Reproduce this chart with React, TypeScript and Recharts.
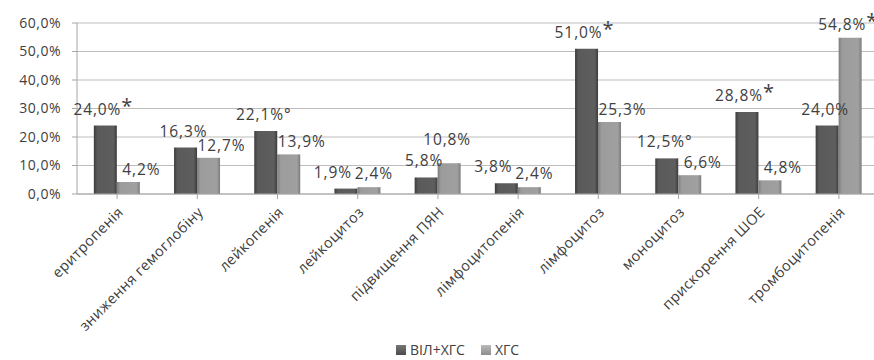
import { BarChart, Bar, XAxis, YAxis, CartesianGrid, Legend, LabelList } from 'recharts';

const categories = [
  'еритропенія',
  'зниження гемоглобіну',
  'лейкопенія',
  'лейкоцитоз',
  'підвищення ПЯН',
  'лімфоцитопенія',
  'лімфоцитоз',
  'моноцитоз',
  'прискорення ШОЕ',
  'тромбоцитопенія',
];
const hivHcv = [24.0, 16.3, 22.1, 1.9, 5.8, 3.8, 51.0, 12.5, 28.8, 24.0];
const hcv = [4.2, 12.7, 13.9, 2.4, 10.8, 2.4, 25.3, 6.6, 4.8, 54.8];
const hivHcvMarks = ['*', '', '°', '', '', '', '*', '°', '*', ''];
const hcvMarks = ['', '', '', '', '', '', '', '', '', '*'];
const yTicks = [0, 10, 20, 30, 40, 50, 60];

const data = categories.map((name, i) => ({ name, a: hivHcv[i], b: hcv[i] }));

const FONT = '"Open Sans", "Noto Sans", sans-serif';
const TEXT = '#404040';

const fmt = (v: number) => v.toFixed(1).replace('.', ',') + '%';

// labels are pushed apart depending on how the two bars of a group compare, as in the original
const labelPlacement = (series: 'a' | 'b', i: number) => {
  const diff = hivHcv[i] - hcv[i];
  if (Math.abs(diff) < 2) return series === 'a' ? { shift: -13, gap: 11 } : { shift: 5, gap: 8 };
  if (series === 'a') return { shift: -2, gap: 11 };
  if (diff > 0) return { shift: 13, gap: 7 };
  return { shift: -2, gap: diff > -8 ? 18 : 8 };
};

const renderLabel = (series: 'a' | 'b') => (props: any) => {
  const { x, y, width, value, index } = props;
  const mark = (series === 'a' ? hivHcvMarks : hcvMarks)[index];
  const { shift, gap } = labelPlacement(series, index);
  return (
    <text
      x={x + width / 2 + shift}
      y={y - gap}
      textAnchor="middle"
      fill={TEXT}
      fontSize={15.5}
      fontFamily={FONT}
      letterSpacing={0.9}
    >
      {fmt(value)}
      {mark === '*' && (
        <tspan fontSize={20} dy={-2}>*</tspan>
      )}
      {mark === '°' && <tspan>°</tspan>}
    </text>
  );
};

const XTick = (props: any) => {
  const { x, y, payload } = props;
  return (
    <text
      x={x + 7}
      y={y + 12}
      textAnchor="end"
      fill={TEXT}
      fontSize={14.5}
      fontFamily={FONT}
      letterSpacing={0.4}
      transform={`rotate(-45 ${x + 7} ${y + 12})`}
    >
      {payload.value}
    </text>
  );
};

const LegendContent = () => (
  <div
    style={{
      display: 'flex',
      justifyContent: 'center',
      alignItems: 'center',
      gap: 16,
      fontFamily: FONT,
      fontSize: 14,
      color: TEXT,
      paddingLeft: 36,
    }}
  >
    <span style={{ display: 'flex', alignItems: 'center', gap: 4 }}>
      <span style={{ width: 10, height: 10, background: 'linear-gradient(#777, #4a4a4a)', display: 'inline-block' }} />
      ВІЛ+ХГС
    </span>
    <span style={{ display: 'flex', alignItems: 'center', gap: 4 }}>
      <span style={{ width: 10, height: 10, background: 'linear-gradient(#bbb, #8c8c8c)', display: 'inline-block' }} />
      ХГС
    </span>
  </div>
);

export default function App() {
  return (
    <div style={{ position: 'absolute', left: 0, top: 0, width: 874, height: 360, overflow: 'hidden', background: '#fff' }}>
      <BarChart
        width={882}
        height={360}
        data={data}
        margin={{ top: 23, right: 3, bottom: 0, left: 0 }}
        barCategoryGap="21%"
        barGap={0}
      >
        <defs>
          <linearGradient id="gDark" x1="0" y1="0" x2="1" y2="0">
            <stop offset="0" stopColor="#3c3c3c" />
            <stop offset="0.15" stopColor="#5a5a5a" />
            <stop offset="0.85" stopColor="#5e5e5e" />
            <stop offset="1" stopColor="#3c3c3c" />
          </linearGradient>
          <linearGradient id="gLight" x1="0" y1="0" x2="1" y2="0">
            <stop offset="0" stopColor="#7c7c7c" />
            <stop offset="0.15" stopColor="#9c9c9c" />
            <stop offset="0.85" stopColor="#a0a0a0" />
            <stop offset="1" stopColor="#7c7c7c" />
          </linearGradient>
        </defs>
        <CartesianGrid vertical={false} stroke="#bdbdbd" />
        <XAxis
          dataKey="name"
          interval={0}
          height={146}
          tick={<XTick />}
          tickSize={5}
          stroke="#a6a6a6"
        />
        <YAxis
          width={77}
          domain={[0, 60]}
          ticks={yTicks}
          tickFormatter={(v: number) => fmt(v)}
          tick={{ fill: TEXT, fontSize: 14, fontFamily: FONT, letterSpacing: 0.5 }}
          tickSize={5}
          tickMargin={11}
          stroke="#a6a6a6"
        />
        <Legend verticalAlign="bottom" height={20} content={<LegendContent />} />
        <Bar dataKey="a" name="ВІЛ+ХГС" fill="url(#gDark)" isAnimationActive={false}>
          <LabelList dataKey="a" content={renderLabel('a')} />
        </Bar>
        <Bar dataKey="b" name="ХГС" fill="url(#gLight)" isAnimationActive={false}>
          <LabelList dataKey="b" content={renderLabel('b')} />
        </Bar>
      </BarChart>
    </div>
  );
}
